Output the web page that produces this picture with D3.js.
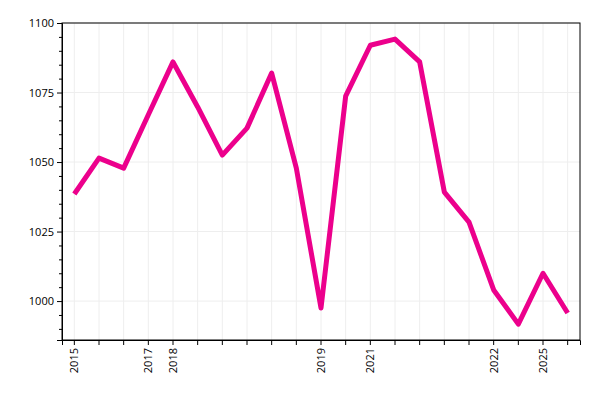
<!DOCTYPE html><html><head><script src="https://cdn.jsdelivr.net/npm/d3@7"></script>
<style>body{margin:0}text{font-family:"Open Sans",sans-serif}</style></head><body><svg width="600" height="400"></svg>
<script>
const tickLabels=["2015","","","2017","2018","","","","","","2019","","2021","","","","","2022","","2025",""];
const values=[1038.5,1051.4,1047.8,1067,1086,1069.8,1052.5,1062.2,1082,1047.8,997.5,1073.7,1092,1094.2,1086,1039.2,1028.4,1004,991.7,1010,995.7];
const yTicks=[1000,1025,1050,1075,1100];
const svg=d3.select("svg");
const L=62,R=580,T=23,B=340;
const idx=values.map((d,i)=>i);
const x=d3.scaleBand().domain(idx).range([L,R]);
const cx=i=>x(i)+x.bandwidth()/2;
const y=d3.scaleLinear().domain([986,1100]).range([B,T]);
const g=svg.append("g");
g.selectAll(".vg").data(idx).join("line").attr("x1",cx).attr("x2",cx).attr("y1",T).attr("y2",B).attr("stroke","#eee");
g.selectAll(".hg").data(yTicks).join("line").attr("x1",L).attr("x2",R).attr("y1",y).attr("y2",y).attr("stroke","#eee");
svg.append("rect").attr("x",L).attr("y",T).attr("width",R-L).attr("height",B-T).attr("fill","none").attr("stroke","#000");
const ya=svg.append("g").attr("transform",`translate(${L},0)`).call(d3.axisLeft(y).tickValues(yTicks).tickSize(5).tickFormat(d3.format("d")));
svg.append("g").attr("transform",`translate(${L},0)`).call(d3.axisLeft(y).tickValues(d3.range(990,1100,5).filter(v=>v%25)).tickSize(3).tickFormat("")).select(".domain").remove();
const xa=svg.append("g").attr("transform",`translate(0,${B})`).call(d3.axisBottom(x).tickSize(5).tickFormat(i=>tickLabels[i]));
xa.selectAll("text").attr("transform","rotate(-90)").attr("text-anchor","end").attr("x",-8).attr("y",0).attr("dy","0.35em");
svg.selectAll(".tick text").attr("font-size",11).attr("fill","#000");
svg.selectAll(".domain").attr("stroke","#000");
svg.append("path").datum(values).attr("fill","none").attr("stroke","#ec008c").attr("stroke-width",5).attr("stroke-linejoin","round")
 .attr("d",d3.line().x((d,i)=>cx(i)).y(d=>y(d)));
</script></body></html>
